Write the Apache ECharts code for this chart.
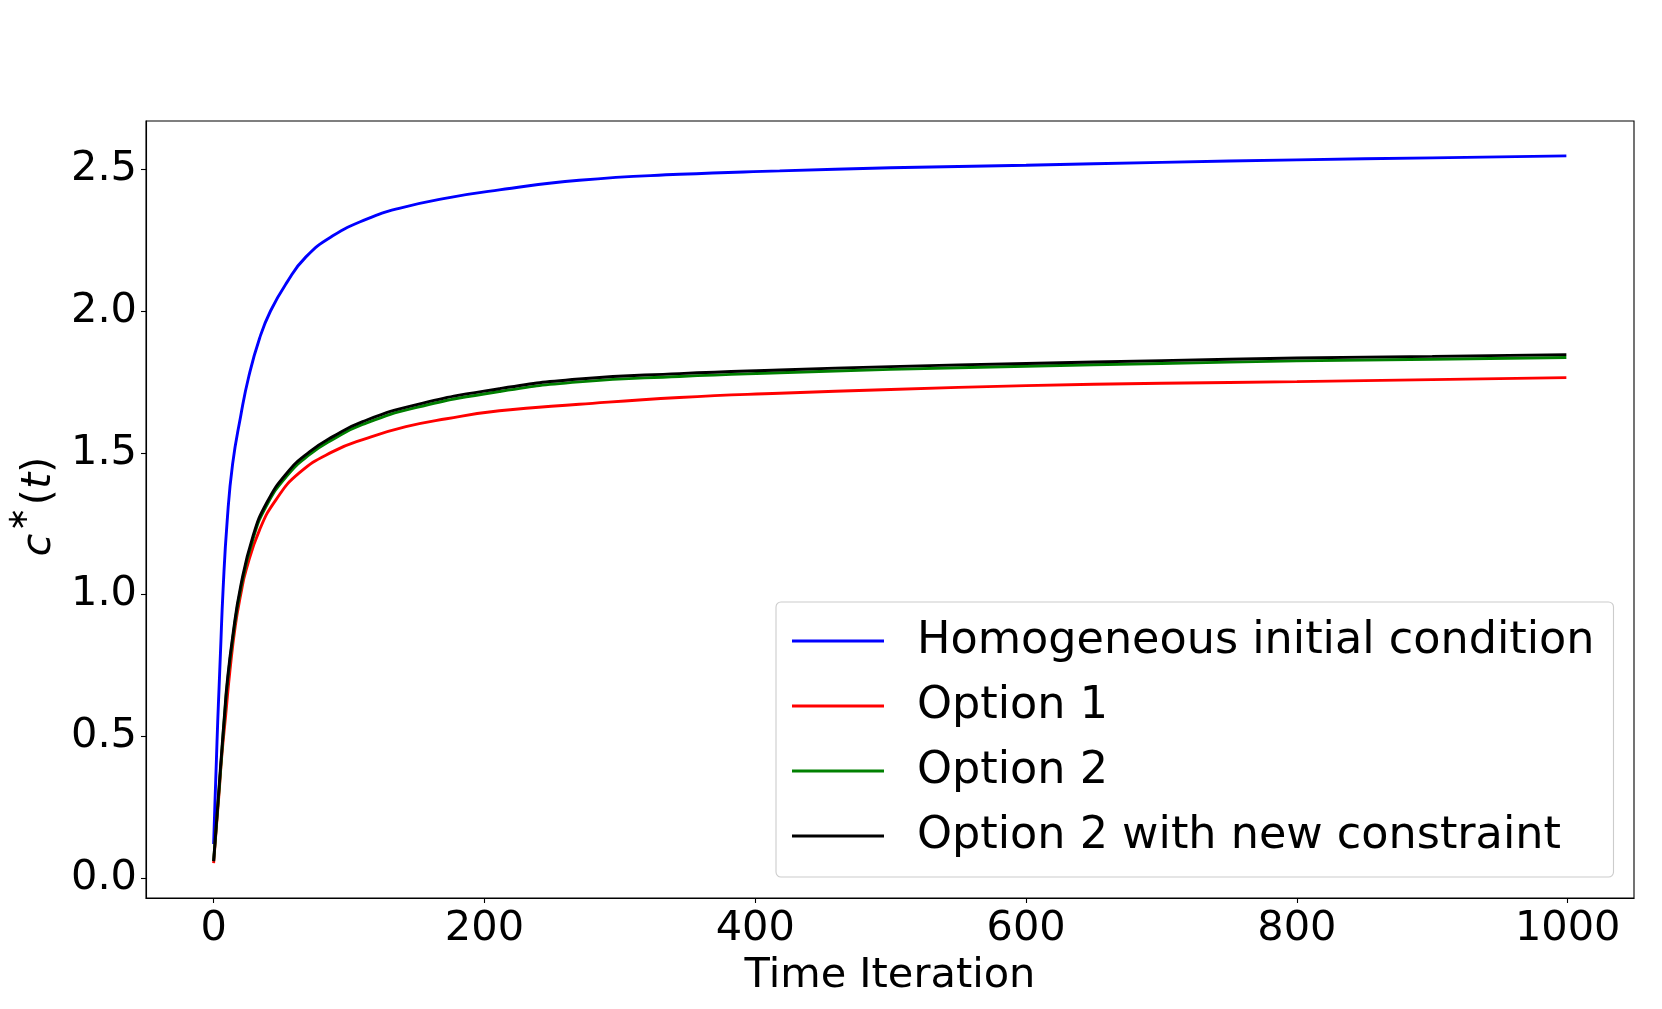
<!DOCTYPE html>
<html>
<head>
<meta charset="utf-8">
<script src="https://cdn.jsdelivr.net/npm/echarts@6/dist/echarts.min.js"></script>
<style>
html,body{margin:0;padding:0;background:#fff;}
#chart{width:1662px;height:1009px;}
</style>
</head>
<body>
<div id="chart"></div>
<script>
// ---- data ----
const seriesNames = ['Homogeneous initial condition', 'Option 1', 'Option 2', 'Option 2 with new constraint'];
const seriesColors = ['#0000ff', '#ff0000', '#008000', '#000000'];

const blueX = [0, 1, 2, 3, 4, 5, 7, 10, 14, 20, 26, 34, 42, 54, 68, 88, 113, 137, 174, 211, 270, 344, 418, 500, 600, 700, 800, 900, 999];
const blueY = [0.12, 0.27, 0.41, 0.55, 0.67, 0.79, 1.02, 1.26, 1.46, 1.63, 1.77, 1.905, 2.00, 2.10, 2.19, 2.265, 2.324, 2.362, 2.40, 2.427, 2.461, 2.482, 2.494, 2.505, 2.514, 2.524, 2.533, 2.540, 2.547];

const redX = [0, 2, 4, 6, 9, 12, 16, 20, 24, 34, 46, 63, 88, 113, 142, 172, 211, 270, 344, 418, 500, 600, 700, 800, 900, 999];
const redY = [0.053, 0.18, 0.30, 0.43, 0.58, 0.73, 0.89, 1.00, 1.087, 1.229, 1.334, 1.428, 1.504, 1.551, 1.592, 1.620, 1.648, 1.671, 1.695, 1.710, 1.723, 1.737, 1.745, 1.751, 1.758, 1.765];

const greenX = [0, 2, 4, 6, 8, 10, 14, 20, 29, 39, 54, 71, 88, 110, 150, 211, 270, 344, 418, 500, 600, 700, 800, 900, 999];
const greenY = [0.06, 0.185, 0.31, 0.44, 0.565, 0.68, 0.84, 1.02, 1.195, 1.313, 1.418, 1.494, 1.547, 1.600, 1.660, 1.716, 1.750, 1.769, 1.782, 1.794, 1.805, 1.815, 1.824, 1.830, 1.836];

const blackX = [0, 2, 4, 6, 8, 10, 14, 20, 29, 39, 54, 71, 88, 110, 150, 211, 270, 344, 418, 500, 600, 700, 800, 900, 999];
const blackY = [0.06, 0.19, 0.32, 0.45, 0.575, 0.69, 0.85, 1.03, 1.205, 1.322, 1.428, 1.504, 1.557, 1.610, 1.670, 1.726, 1.760, 1.779, 1.792, 1.804, 1.815, 1.825, 1.834, 1.840, 1.846];

const xTicks = [0, 200, 400, 600, 800, 1000];
const yTicks = [0.0, 0.5, 1.0, 1.5, 2.0, 2.5];

// ---- chart ----
const FONT = 'DejaVu Sans';
const FS = 41.5;
const pairs = (xs, ys) => xs.map((x, i) => [x, ys[i]]);
const allData = [pairs(blueX, blueY), pairs(redX, redY), pairs(greenX, greenY), pairs(blackX, blackY)];

const chart = echarts.init(document.getElementById('chart'), null, {renderer: 'canvas'});
chart.setOption({
  animation: false,
  backgroundColor: '#ffffff',
  grid: {
    left: 146, right: 28, top: 121, bottom: 111,
    show: true, borderColor: '#000000', borderWidth: 1.1,
    backgroundColor: 'transparent',
    containLabel: false, outerBoundsMode: 'none'
  },
  xAxis: {
    type: 'value',
    min: -49.95, max: 1048.95,
    name: 'Time Iteration',
    nameLocation: 'middle',
    nameGap: 49,
    nameTextStyle: {fontFamily: FONT, fontSize: FS, color: '#000', verticalAlign: 'top'},
    axisLine: {show: true, onZero: false, lineStyle: {color: '#000', width: 1.1}},
    axisTick: {show: true, length: 5, customValues: xTicks, lineStyle: {color: '#000', width: 1.1}},
    axisLabel: {customValues: xTicks, fontFamily: FONT, fontSize: FS, color: '#000', margin: 10,
                formatter: v => String(Math.round(v))},
    splitLine: {show: false}
  },
  yAxis: {
    type: 'value',
    min: -0.07, max: 2.67,
    name: '{c|c}{s|∗}{p|(}{t|t}{p|)}',
    nameLocation: 'middle',
    nameRotate: 90,
    nameGap: 84,
    nameTextStyle: {
      fontFamily: FONT, fontSize: FS, color: '#000',
      padding: [0, 0, 0, 6],
      rich: {
        c: {fontFamily: FONT, fontSize: FS, fontStyle: 'italic', color: '#000', verticalAlign: 'bottom'},
        s: {fontFamily: FONT, fontSize: 29, color: '#000', verticalAlign: 'top', padding: [0, 2, 26, 2]},
        p: {fontFamily: FONT, fontSize: FS, color: '#000', verticalAlign: 'bottom'},
        t: {fontFamily: FONT, fontSize: FS, fontStyle: 'italic', color: '#000', verticalAlign: 'bottom'}
      }
    },
    axisLine: {show: true, onZero: false, lineStyle: {color: '#000', width: 1.1}},
    axisTick: {show: true, length: 5, customValues: yTicks, lineStyle: {color: '#000', width: 1.1}},
    axisLabel: {customValues: yTicks, fontFamily: FONT, fontSize: FS, color: '#000', margin: 9,
                formatter: v => v.toFixed(1)},
    splitLine: {show: false}
  },
  legend: {
    show: true,
    orient: 'vertical',
    left: 776, top: 602,
    padding: [13, 19, 15, 16],
    itemGap: 13,
    itemWidth: 92, itemHeight: 3,
    icon: 'rect',
    backgroundColor: 'rgba(255,255,255,0.8)',
    borderColor: '#cccccc', borderWidth: 1.1, borderRadius: 5,
    textStyle: {fontFamily: FONT, fontSize: 44.5, color: '#000', lineHeight: 52, padding: [0, 0, 0, 28]},
    data: seriesNames
  },
  series: seriesNames.map((name, i) => ({
    name: name,
    type: 'line',
    data: allData[i],
    showSymbol: false,
    symbol: 'none',
    smooth: 0.5,
    clip: true,
    color: seriesColors[i],
    lineStyle: {color: seriesColors[i], width: 2.9},
    z: 2 + i
  }))
});
</script>
</body>
</html>
